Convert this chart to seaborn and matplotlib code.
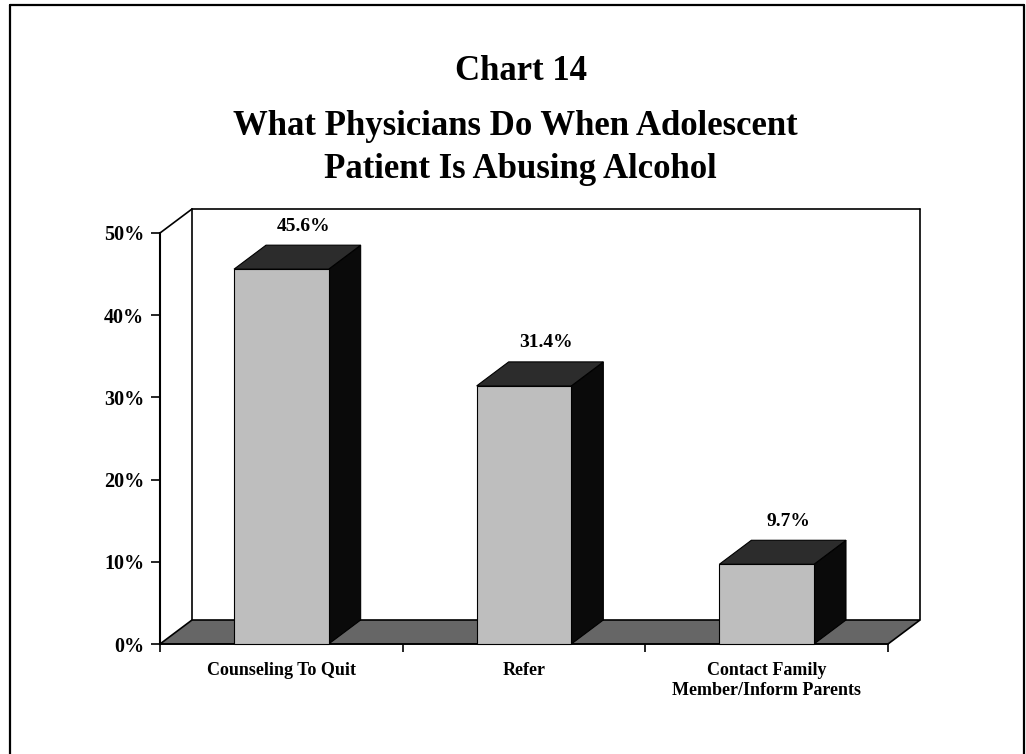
import numpy as np
import pandas as pd
import matplotlib
matplotlib.use("Agg")
import matplotlib.pyplot as plt
import seaborn as sns
from matplotlib.patches import Polygon
from matplotlib.lines import Line2D

# ---------------- data ----------------
categories = ["Counseling To Quit", "Refer", "Contact Family\nMember/Inform Parents"]
values = [45.6, 31.4, 9.7]
value_labels = ["45.6%", "31.4%", "9.7%"]
yticks = [0, 10, 20, 30, 40, 50]
ytick_labels = ["0%", "10%", "20%", "30%", "40%", "50%"]
chart_number = "Chart 14"
title_lines = ["What Physicians Do When Adolescent", "Patient Is Abusing Alcohol"]

# ---------------- style ----------------
sns.set_theme(style="white")
plt.rcParams['font.family'] = ['Liberation Serif', 'DejaVu Serif']
plt.rcParams['font.weight'] = 'bold'

W, H = 1026, 754
fig = plt.figure(figsize=(W / 100, H / 100), dpi=100)
fig.patch.set_facecolor("white")

# front plane of the 3-D box (pixel layout)
px_left, px_right = 160, 888
px_bottom, px_top = 644, 233
ax = fig.add_axes([px_left / W, 1 - px_bottom / H,
                   (px_right - px_left) / W, (px_bottom - px_top) / H])
ax.set_facecolor("none")

df = pd.DataFrame({"category": categories, "value": values})
sns.barplot(data=df, x="category", y="value", ax=ax, color="#bebebe",
            width=0.39, saturation=1, edgecolor="black", linewidth=0.8)

ax.set_xlim(-0.5, 2.5)
ax.set_ylim(0, 50)

# depth offsets in data units
ux = (px_right - px_left) / 3.0          # px per category unit
uy = (px_bottom - px_top) / 50.0         # px per percent
DX = 32 / ux
DY = 24 / uy

# back wall outline
wall_kw = dict(color="black", lw=1.2, zorder=1, clip_on=False)
ax.add_line(Line2D([-0.5 + DX, -0.5 + DX], [DY, 50 + DY], **wall_kw))
ax.add_line(Line2D([-0.5 + DX, 2.5 + DX], [50 + DY, 50 + DY], **wall_kw))
ax.add_line(Line2D([2.5 + DX, 2.5 + DX], [DY, 50 + DY], **wall_kw))
ax.add_line(Line2D([-0.5, -0.5 + DX], [50, 50 + DY], **wall_kw))

# floor
floor = Polygon([(-0.5, 0), (2.5, 0), (2.5 + DX, DY), (-0.5 + DX, DY)],
                closed=True, facecolor="#666666", edgecolor="black",
                lw=1.2, zorder=2, clip_on=False)
ax.add_patch(floor)

# 3-D sides and tops for each seaborn bar
bars = [p for p in ax.patches if p is not floor]
for i, p in enumerate(bars):
    x = p.get_x()
    w = p.get_width()
    h = p.get_height()
    p.set_zorder(6)
    p.set_clip_on(False)
    side = Polygon([(x + w, 0), (x + w + DX, DY), (x + w + DX, h + DY), (x + w, h)],
                   closed=True, facecolor="#0a0a0a", edgecolor="black",
                   lw=0.8, zorder=5, clip_on=False)
    top = Polygon([(x, h), (x + DX, h + DY), (x + w + DX, h + DY), (x + w, h)],
                  closed=True, facecolor="#2c2c2c", edgecolor="black",
                  lw=0.8, zorder=5, clip_on=False)
    ax.add_patch(side)
    ax.add_patch(top)
    ax.text(x + w / 2 + 22 / ux, h + DY + 19 / uy, value_labels[i],
            ha="center", va="center", fontsize=14, fontweight="bold",
            color="black", zorder=7, clip_on=False)

# axes / ticks
for s in ["top", "right"]:
    ax.spines[s].set_visible(False)
ax.spines["left"].set_color("black")
ax.spines["left"].set_linewidth(1.5)
ax.spines["bottom"].set_color("black")
ax.spines["bottom"].set_linewidth(1.2)

ax.set_yticks(yticks)
ax.set_yticklabels(ytick_labels, fontsize=14.5, fontweight="bold")
ax.tick_params(axis="y", left=True, direction="out", length=6.5, width=1.2,
               pad=5, colors="black")

ax.set_xticks(range(len(categories)))
ax.set_xticklabels(categories, fontsize=13, fontweight="bold", linespacing=1.25)
ax.set_xticks([-0.5, 0.5, 1.5, 2.5], minor=True)
ax.tick_params(axis="x", which="major", bottom=True, length=0, pad=13, colors="black")
ax.tick_params(axis="x", which="minor", bottom=True, direction="out",
               length=6, width=1.2, color="black")
ax.set_xlabel("")
ax.set_ylabel("")
ax.grid(False)

# titles
fig.text(521 / W, 1 - 80 / H, chart_number, ha="center", va="baseline",
         fontsize=25, fontweight="bold", color="black")
fig.text(515 / W, 1 - 135 / H, title_lines[0], ha="center", va="baseline",
         fontsize=25, fontweight="bold", color="black")
fig.text(520 / W, 1 - 178 / H, title_lines[1], ha="center", va="baseline",
         fontsize=25, fontweight="bold", color="black")

# page frame
frame_kw = dict(color="black", lw=1.6, transform=fig.transFigure)
fig.add_artist(Line2D([10 / W, 10 / W], [0, 1 - 5 / H], **frame_kw))
fig.add_artist(Line2D([10 / W, 1024 / W], [1 - 5 / H, 1 - 5 / H], **frame_kw))
fig.add_artist(Line2D([1024 / W, 1024 / W], [0, 1 - 5 / H], **frame_kw))

fig.savefig("out.png", dpi=100, facecolor="white")
